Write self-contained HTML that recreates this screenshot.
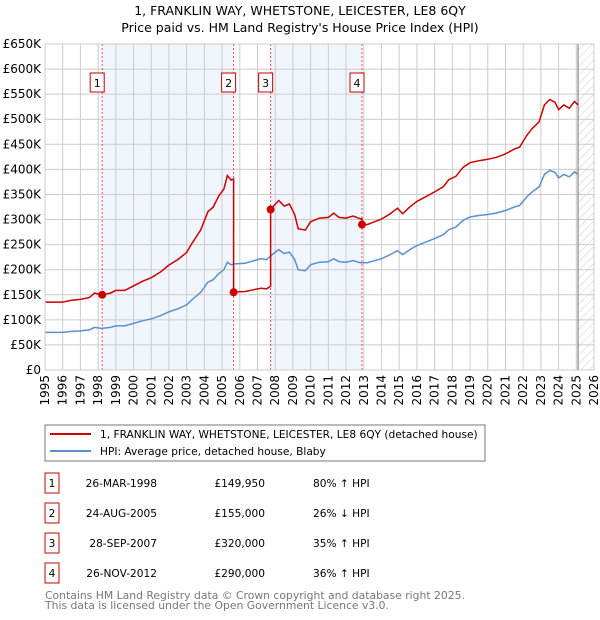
<!DOCTYPE html>
<html><head><meta charset="utf-8"><style>
body{margin:0;background:#fff;}
svg{display:block;font-family:"DejaVu Sans","Liberation Sans",sans-serif;}
</style></head><body>
<svg id="c" width="600" height="620" xmlns="http://www.w3.org/2000/svg">
<text x="300" y="15" text-anchor="middle" font-size="12.5">1, FRANKLIN WAY, WHETSTONE, LEICESTER, LE8 6QY</text>
<text x="300" y="32" text-anchor="middle" font-size="12.5">Price paid vs. HM Land Registry's House Price Index (HPI)</text>
<defs><pattern id="hatch" width="6" height="6" patternUnits="userSpaceOnUse" patternTransform="rotate(45)"><line x1="0" y1="0" x2="0" y2="6" stroke="#ccc" stroke-width="1"/></pattern></defs>
<g id="plot"></g>
<rect x="45" y="425" width="440" height="36" fill="#fff" stroke="#777"/>
<line x1="50" y1="434" x2="91" y2="434" stroke="#cc0000" stroke-width="2"/>
<text x="100" y="438" font-size="10.6">1, FRANKLIN WAY, WHETSTONE, LEICESTER, LE8 6QY (detached house)</text>
<line x1="50" y1="451" x2="91" y2="451" stroke="#5b8fd1" stroke-width="2"/>
<text x="100" y="455" font-size="10.6">HPI: Average price, detached house, Blaby</text>
<g id="table" font-size="10.6"></g>
<text x="45" y="599" font-size="10.8" fill="#777">Contains HM Land Registry data © Crown copyright and database right 2025.</text>
<text x="45" y="609" font-size="10.8" fill="#777">This data is licensed under the Open Government Licence v3.0.</text>
</svg>
<script>
const hpiT=[1995.0,1995.5,1996,1996.5,1997,1997.5,1997.8,1998.2,1998.7,1999,1999.5,2000,2000.5,2001,2001.5,2002,2002.5,2003,2003.3,2003.8,2004.2,2004.5,2004.8,2005.1,2005.3,2005.5,2005.8,2006.3,2006.8,2007.2,2007.5,2007.9,2008.2,2008.5,2008.8,2009.1,2009.3,2009.7,2010,2010.5,2011,2011.3,2011.6,2012,2012.4,2012.8,2013.2,2013.6,2014,2014.5,2014.9,2015.2,2015.6,2016,2016.5,2017,2017.5,2017.8,2018.2,2018.6,2019,2019.5,2020,2020.5,2021,2021.5,2021.8,2022.2,2022.5,2022.9,2023.2,2023.5,2023.8,2024,2024.3,2024.6,2024.9,2025.1];
const hpiV=[75,75,75,77,78,80,85,83,85,88,88,93,98,102,108,116,122,130,140,155,175,180,192,200,215,210,212,213,218,222,220,232,240,232,235,220,200,198,210,215,216,222,216,215,218,214,214,218,222,230,238,230,240,248,255,262,270,280,285,298,305,308,310,313,318,325,328,345,355,365,390,398,394,383,390,385,395,390];
const saleT=[1998.23,2005.65,2007.74,2012.9];
const saleP=[149950,155000,320000,290000];
const saleDates=["26-MAR-1998","24-AUG-2005","28-SEP-2007","26-NOV-2012"];
const salePriceLabels=["£149,950","£155,000","£320,000","£290,000"];
const saleHpiLabels=["80% ↑ HPI","26% ↓ HPI","35% ↑ HPI","36% ↑ HPI"];
const yTicks=[0,50,100,150,200,250,300,350,400,450,500,550,600,650];
const years=[1995,1996,1997,1998,1999,2000,2001,2002,2003,2004,2005,2006,2007,2008,2009,2010,2011,2012,2013,2014,2015,2016,2017,2018,2019,2020,2021,2022,2023,2024,2025,2026];

const X0=45,X1=594,Y0=370,Y1=44;
const xs=t=>X0+(t-1995)/31*(X1-X0);
const ys=v=>Y0-v/650*(Y0-Y1);
const NS="http://www.w3.org/2000/svg";
const g=document.getElementById('plot');
function mk(tag,attrs,parent){const e=document.createElementNS(NS,tag);for(const k in attrs)e.setAttribute(k,attrs[k]);(parent||g).appendChild(e);return e;}
function hpiAt(t){for(let i=1;i<hpiT.length;i++){if(t<=hpiT[i]){const f=(t-hpiT[i-1])/(hpiT[i]-hpiT[i-1]);return hpiV[i-1]+f*(hpiV[i]-hpiV[i-1]);}}return hpiV[hpiV.length-1];}

for(let i=0;i<saleT.length;i+=2){
  const r=mk('rect',{x:xs(saleT[i]),y:Y1,width:xs(saleT[i+1])-xs(saleT[i]),height:Y0-Y1,fill:'#eef3fc',opacity:0.8});
  
  
}
const h=mk('rect',{x:xs(2025.1),y:Y1,width:X1-xs(2025.1),height:Y0-Y1,fill:'url(#hatch)'});


yTicks.forEach(v=>{
  const l=mk('line',{x1:X0,x2:X1,y1:ys(v),y2:ys(v),stroke:'#ccc','stroke-width':1});
  
  
  const t=mk('text',{x:X0-4,y:ys(v)+4,'text-anchor':'end','font-size':12});
  t.textContent=(v===0?'£0':'£'+v+'K');
  
  
});
years.forEach(yr=>{
  const l=mk('line',{x1:xs(yr),x2:xs(yr),y1:Y1,y2:Y0,stroke:'#ccc','stroke-width':1});
  
  
  const t=mk('text',{transform:`translate(${xs(yr)+4},${Y0+5}) rotate(-90)`,'text-anchor':'end','font-size':12});
  t.textContent=yr;
  
  
});
const dl=mk('line',{x1:xs(2025.1),x2:xs(2025.1),y1:Y1,y2:Y0,stroke:'#888','stroke-width':1.2});


saleT.forEach((t,i)=>{
  const l=mk('line',{x1:xs(t),x2:xs(t),y1:Y1,y2:Y0,stroke:'#e05050','stroke-width':1,'stroke-dasharray':'2,2'});
  
  
  const bx=mk('rect',{x:xs(t)-12,y:73,width:14,height:19,fill:'#fff',stroke:'#cc0000'});
  
  
  const tx=mk('text',{x:xs(t)-5,y:87,'text-anchor':'middle','font-size':11});
  tx.textContent=i+1;
  
  
});
let d='';hpiT.forEach((t,i)=>{d+=(i?'L':'M')+xs(t).toFixed(1)+','+ys(hpiV[i]).toFixed(1);});
const hl=mk('path',{d,fill:'none',stroke:'#5b8fd1','stroke-width':1.5});


let pd='';let first=true;
const pts=[...hpiT];saleT.forEach(t=>pts.push(t));pts.sort((a,b)=>a-b);
let seg=0;
pts.forEach(t=>{
  while(seg<saleT.length-1&&t>=saleT[seg+1]){
    const tj=saleT[seg+1];
    const vOld=saleP[seg]/1000/hpiAt(saleT[seg])*hpiAt(tj);
    pd+='L'+xs(tj).toFixed(1)+','+ys(vOld).toFixed(1);
    seg++;
    pd+='L'+xs(tj).toFixed(1)+','+ys(saleP[seg]/1000).toFixed(1);
  }
  const v=saleP[seg]/1000/hpiAt(saleT[seg])*hpiAt(t);
  pd+=(first?'M':'L')+xs(t).toFixed(1)+','+ys(v).toFixed(1);first=false;
});
const pl=mk('path',{d:pd,fill:'none',stroke:'#cc0000','stroke-width':1.5});


saleT.forEach((t,i)=>{
  const c=mk('circle',{cx:xs(t),cy:ys(saleP[i]/1000),r:4,fill:'#cc0000'});
  
  
});
const fr=mk('rect',{x:X0,y:Y1,width:X1-X0,height:Y0-Y1,fill:'none',stroke:'#ccc'});


const tb=document.getElementById('table');
saleT.forEach((t,i)=>{
  const y=483+i*30;
  const b=mk('rect',{x:45,y:y-10,width:14,height:20,fill:'#fff',stroke:'#cc0000'},tb);
  
  
  const cells=[[52,'middle',String(i+1)],[157,'end',saleDates[i]],[265,'end',salePriceLabels[i]],[313,'start',saleHpiLabels[i]]];
  cells.forEach(([x,a,s])=>{
    const e=mk('text',{x,y:y+4,'text-anchor':a},tb);
    e.textContent=s;
    
    
  });
});
</script>
</body></html>
